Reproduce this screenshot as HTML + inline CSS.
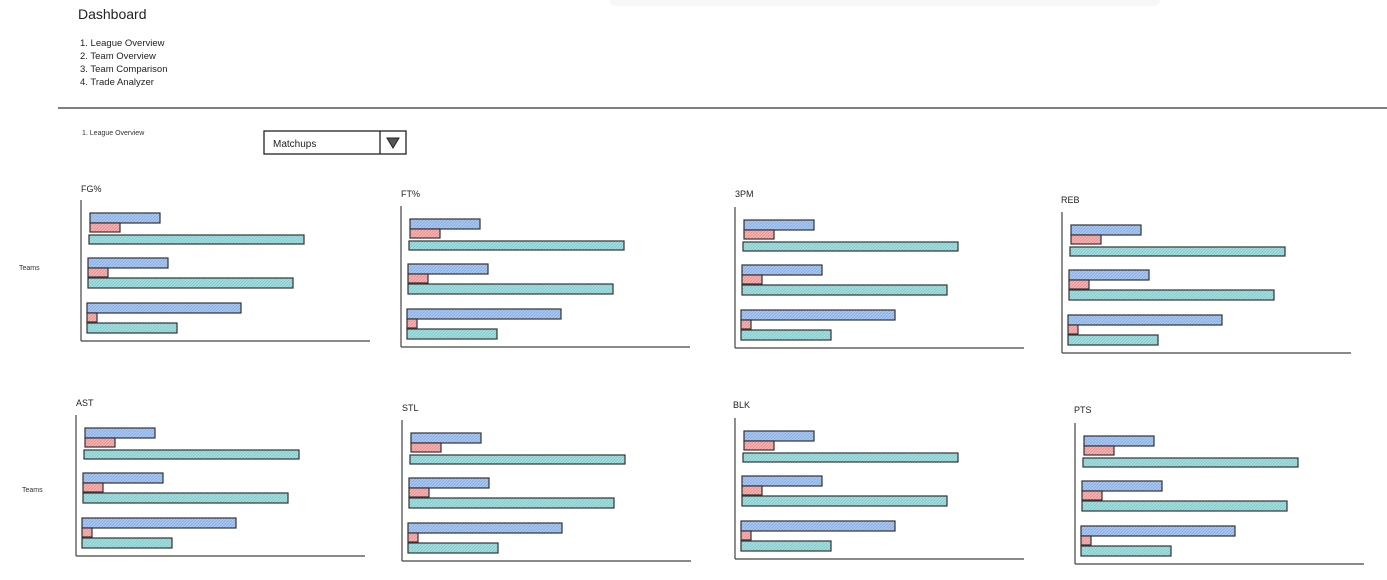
<!DOCTYPE html>
<html><head><meta charset="utf-8"><style>
html,body{margin:0;padding:0;background:#fff;width:1387px;height:580px;overflow:hidden}
svg{display:block;font-family:"Comic Sans MS","Liberation Sans",sans-serif}
</style></head><body>
<svg width="1387" height="580" viewBox="0 0 1387 580" xmlns="http://www.w3.org/2000/svg">
<defs>
<pattern id="pb" width="3" height="3" patternUnits="userSpaceOnUse"><rect width="3" height="3" fill="#a9c8f2"/><path d="M0 3L3 0" stroke="#86a9e0" stroke-width="0.8"/></pattern>
<pattern id="pr" width="3" height="3" patternUnits="userSpaceOnUse"><rect width="3" height="3" fill="#f6b3b3"/><path d="M0 3L3 0" stroke="#e88c8c" stroke-width="0.8"/></pattern>
<pattern id="pt" width="3" height="3" patternUnits="userSpaceOnUse"><rect width="3" height="3" fill="#a5dfe0"/><path d="M0 3L3 0" stroke="#7cc6c8" stroke-width="0.8"/></pattern>
<g id="chart" stroke="#333" stroke-width="1.2">
<line x1="0" y1="0" x2="0" y2="141" stroke="#444"/>
<line x1="0" y1="141" x2="289" y2="141" stroke="#444"/>
<rect x="9" y="13" width="70" height="10" fill="url(#pb)"/>
<rect x="9" y="23" width="30" height="9" fill="url(#pr)"/>
<rect x="8" y="35" width="215" height="9" fill="url(#pt)"/>
<rect x="7" y="58" width="80" height="10" fill="url(#pb)"/>
<rect x="7" y="68" width="20" height="9" fill="url(#pr)"/>
<rect x="7" y="78" width="205" height="10" fill="url(#pt)"/>
<rect x="6" y="103" width="154" height="10" fill="url(#pb)"/>
<rect x="6" y="113" width="10" height="9" fill="url(#pr)"/>
<rect x="6" y="123" width="90" height="10" fill="url(#pt)"/>
</g>
</defs>
<rect x="610" y="-6" width="550" height="12" rx="6" fill="#f7f7f7"/>
<text x="78" y="19" font-size="14" fill="#222">Dashboard</text>
<g font-size="9.5" fill="#222">
<text x="80" y="46">1. League Overview</text>
<text x="80" y="59">2. Team Overview</text>
<text x="80" y="72">3. Team Comparison</text>
<text x="80" y="85">4. Trade Analyzer</text>
</g>
<line x1="58" y1="108" x2="1387" y2="108" stroke="#333" stroke-width="1.3"/>
<text x="82" y="135" font-size="7" fill="#333">1. League Overview</text>
<rect x="264" y="131" width="142" height="23" fill="#fff" stroke="#222" stroke-width="1.3"/>
<line x1="380" y1="131" x2="380" y2="154" stroke="#222" stroke-width="1.3"/>
<text x="273" y="147" font-size="10" fill="#222">Matchups</text>
<path d="M387 138L399 138L393 148Z" fill="#555" stroke="#222"/>
<text x="19" y="270" font-size="7" fill="#333">Teams</text>
<text x="22" y="492" font-size="7" fill="#333">Teams</text>
<g font-size="9" fill="#222">
<text x="81" y="192">FG%</text>
<text x="401" y="197">FT%</text>
<text x="735" y="197">3PM</text>
<text x="1061" y="203">REB</text>
<text x="76" y="406">AST</text>
<text x="402" y="411">STL</text>
<text x="733" y="408">BLK</text>
<text x="1074" y="413">PTS</text>
</g>
<use href="#chart" x="81" y="200"/>
<use href="#chart" x="401" y="206"/>
<use href="#chart" x="735" y="207"/>
<use href="#chart" x="1062" y="212"/>
<use href="#chart" x="76" y="415"/>
<use href="#chart" x="402" y="420"/>
<use href="#chart" x="735" y="418"/>
<use href="#chart" x="1075" y="423"/>
</svg>
</body></html>
